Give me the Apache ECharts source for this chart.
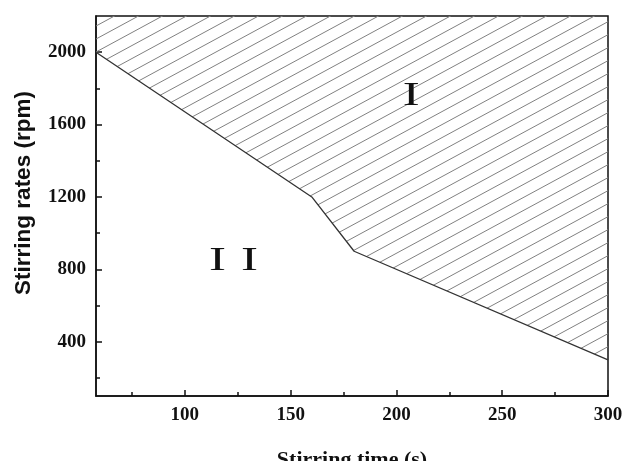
<!DOCTYPE html>
<html>
<head>
<meta charset="utf-8">
<script src="https://cdn.jsdelivr.net/npm/echarts@6/dist/echarts.min.js"></script>
<style>html,body{margin:0;padding:0;background:#fff;}#c{width:623px;height:461px;}</style>
</head>
<body>
<div id="c"></div>
<script>
// Boundary line between region I (hatched, above) and region II (below)
const stirTime = [58, 160, 180, 300];
const stirRate = [2000, 1200, 900, 300];
// Axis ticks
const xMajorTicks = [100, 150, 200, 250, 300];
const xMinorTicks = [75, 125, 175, 225, 275];
const yMajorTicks = [400, 800, 1200, 1600, 2000];
const yMinorTicks = [200, 600, 1000, 1400, 1800];
// Region labels (Roman numerals)
const regionNames = ['I', 'II'];
const regionX = [207, 123];
const regionY = [1760, 845];

function hatchPattern() {
  const w = 24, h = 13;
  const c = document.createElement('canvas');
  c.width = w; c.height = h;
  const g = c.getContext('2d');
  g.strokeStyle = '#808080';
  g.lineWidth = 1;
  for (let k = -1; k <= 1; k++) {
    g.beginPath();
    g.moveTo(0, (1 + k) * h);
    g.lineTo(w, k * h);
    g.stroke();
  }
  return c;
}

const chart = echarts.init(document.getElementById('c'), null, {renderer: 'canvas'});
const serif = 'Liberation Serif';
const plain = v => String(v);
chart.setOption({
  animation: false,
  backgroundColor: '#fff',
  grid: {left: 96, right: 15, top: 16, bottom: 65, outerBoundsMode: 'none', containLabel: false, show: true, borderColor: '#111', borderWidth: 1.5, backgroundColor: 'transparent'},
  xAxis: [{
    type: 'value', min: 58, max: 300, position: 'bottom',
    name: 'Stirring time (s)', nameLocation: 'middle', nameGap: 53,
    nameTextStyle: {fontFamily: serif, fontWeight: 'bold', fontSize: 22, color: '#111'},
    axisLine: {show: true, onZero: false, lineStyle: {color: '#111', width: 1.5}},
    axisTick: {show: true, inside: true, length: 6, customValues: xMajorTicks, lineStyle: {color: '#111', width: 1.5}},
    axisLabel: {customValues: xMajorTicks, formatter: plain, fontFamily: serif, fontWeight: 'bold', fontSize: 19, color: '#111', margin: 10},
    splitLine: {show: false}
  }, {
    type: 'value', min: 58, max: 300, position: 'bottom',
    axisLine: {show: false, onZero: false},
    axisTick: {show: true, inside: true, length: 4, customValues: xMinorTicks, lineStyle: {color: '#111', width: 1.5}},
    axisLabel: {show: false},
    splitLine: {show: false}
  }],
  yAxis: [{
    type: 'value', min: 100, max: 2200, position: 'left',
    name: 'Stirring rates (rpm)', nameLocation: 'middle', nameGap: 61,
    nameTextStyle: {fontFamily: 'Liberation Sans', fontWeight: 'bold', fontSize: 22.5, color: '#111', padding: [0, 0, 0, 26]},
    axisLine: {show: true, onZero: false, lineStyle: {color: '#111', width: 1.5}},
    axisTick: {show: true, inside: true, length: 6, customValues: yMajorTicks, lineStyle: {color: '#111', width: 1.5}},
    axisLabel: {customValues: yMajorTicks, formatter: plain, fontFamily: serif, fontWeight: 'bold', fontSize: 19, color: '#111', margin: 10},
    splitLine: {show: false}
  }, {
    type: 'value', min: 100, max: 2200, position: 'left',
    axisLine: {show: false, onZero: false},
    axisTick: {show: true, inside: true, length: 4, customValues: yMinorTicks, lineStyle: {color: '#111', width: 1.5}},
    axisLabel: {show: false},
    splitLine: {show: false}
  }],
  series: [{
    type: 'line',
    data: stirTime.map((x, i) => [x, stirRate[i]]),
    symbol: 'none',
    lineStyle: {color: '#333', width: 1.3},
    areaStyle: {origin: 'end', color: {image: hatchPattern(), repeat: 'repeat'}, opacity: 1},
    z: 2
  }, {
    type: 'custom',
    data: regionNames.map((n, i) => [regionX[i], regionY[i], i]),
    renderItem: function (params, api) {
      const p = api.coord([api.value(0), api.value(1)]);
      const chars = regionNames[api.value(2)].split('');
      const pitch = 32;
      return {
        type: 'group',
        children: chars.map((ch, j) => ({
          type: 'text',
          x: p[0] + (j - (chars.length - 1) / 2) * pitch,
          y: p[1],
          scaleX: 1.5,
          style: {text: ch, font: '34px "Liberation Serif"', fill: '#111', align: 'center', verticalAlign: 'middle'}
        }))
      };
    },
    z: 5
  }]
});
</script>
</body>
</html>
